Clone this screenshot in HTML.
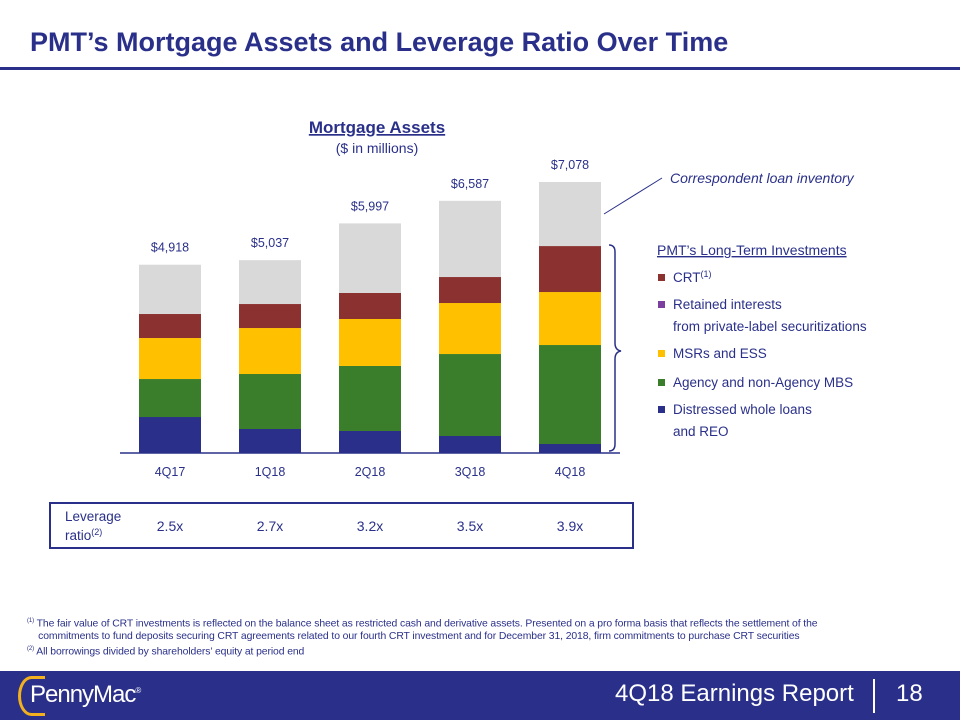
<!DOCTYPE html>
<html><head><meta charset="utf-8"><style>
body{margin:0;width:960px;height:720px;background:#fff;font-family:"Liberation Sans",sans-serif;position:relative;overflow:hidden}
.abs{position:absolute}
</style></head><body>
<div class="abs" style="left:30px;top:27px;font-size:27px;font-weight:bold;color:#2a3089;letter-spacing:0px">PMT’s Mortgage Assets and Leverage Ratio Over Time</div>
<div class="abs" style="left:0;top:67px;width:960px;height:3px;background:#2a3089"></div>
<svg class="abs" style="left:0;top:0" width="960" height="720" id="chart">
<text x="377" y="133" text-anchor="middle" font-size="17" font-weight="bold" fill="#2a3089" text-decoration="underline">Mortgage Assets</text>
<text x="377" y="153" text-anchor="middle" font-size="14" fill="#2a3089">($ in millions)</text>
<g id="bars"></g>
<line x1="120" y1="453" x2="620" y2="453" stroke="#2a3089" stroke-width="1.5"/>
<line x1="604" y1="214" x2="662" y2="178" stroke="#2a3089" stroke-width="1"/>
<text x="670" y="183" font-size="14" font-style="italic" fill="#2a3089">Correspondent loan inventory</text>
<path d="M609,245 Q615,245 615,252 L615,343 Q615,350 621,351 Q615,352 615,359 L615,444 Q615,451 609,451" fill="none" stroke="#2a3089" stroke-width="1.5"/>
<text x="657" y="255" font-size="14" fill="#2a3089" text-decoration="underline">PMT’s Long-Term Investments</text>
<g font-size="13.5" fill="#2a3089">
<rect x="658" y="274" width="7" height="7" fill="#8b3130"/><text x="673" y="282">CRT<tspan font-size="9" dy="-5">(1)</tspan></text>
<rect x="658" y="301" width="7" height="7" fill="#7b3fa0"/><text x="673" y="309">Retained interests</text><text x="673" y="331">from private-label securitizations</text>
<rect x="658" y="350" width="7" height="7" fill="#ffc000"/><text x="673" y="358">MSRs and ESS</text>
<rect x="658" y="379" width="7" height="7" fill="#3a7d2a"/><text x="673" y="387">Agency and non-Agency MBS</text>
<rect x="658" y="406" width="7" height="7" fill="#2a3089"/><text x="673" y="414">Distressed whole loans</text><text x="673" y="436">and REO</text>
</g>
<rect x="50" y="503" width="583" height="45" fill="none" stroke="#2a3089" stroke-width="2"/>
<text x="65" y="521" font-size="13.5" fill="#2a3089">Leverage</text>
<text x="65" y="540" font-size="13.5" fill="#2a3089">ratio<tspan font-size="9" dy="-5">(2)</tspan></text>
<g id="lev"></g>
</svg>
<div class="abs" style="left:27px;top:615px;font-size:10.4px;color:#2a3089;line-height:13px;width:920px;letter-spacing:-0.1px">
<div><sup style="font-size:6px">(1)</sup> The fair value of CRT investments is reflected on the balance sheet as restricted cash and derivative assets. Presented on a pro forma basis that reflects the settlement of the<br>&nbsp;&nbsp;&nbsp;&nbsp;commitments to fund deposits securing CRT agreements related to our fourth CRT investment and for December 31, 2018, firm commitments to purchase CRT securities</div>
<div><sup style="font-size:6px">(2)</sup> All borrowings divided by shareholders’ equity at period end</div>
</div>
<div class="abs" style="left:0;top:671px;width:960px;height:49px;background:#2a3089">
<div class="abs" style="left:18px;top:5px;width:24px;height:34px;border:3px solid #f2b01e;border-right:none;border-radius:50% 0 0 50%"></div>
<div class="abs" style="left:30px;top:10px;color:#fff;font-size:24px;letter-spacing:-1px">PennyMac<sup style="font-size:8px">®</sup></div>
<div class="abs" style="left:615px;top:9px;color:#fff;font-size:24px">4Q18 Earnings Report</div>
<div class="abs" style="left:873px;top:8px;width:2px;height:34px;background:#fff"></div>
<div class="abs" style="left:896px;top:9px;color:#fff;font-size:24px">18</div>
</div>
<script>
const categories=["4Q17","1Q18","2Q18","3Q18","4Q18"];
const loans=[940,627,575,444,235];
const mbs=[992,1436,1698,2141,2585];
const msrs=[1071,1201,1227,1332,1384];
const crt=[627,627,679,679,1201];
const totals=[4918,5037,5997,6587,7078];
const leverage=["2.5x","2.7x","3.2x","3.5x","3.9x"];
const NS="http://www.w3.org/2000/svg";
const base=453,scale=271/7078;
const y=v=>base-v*scale;
const xc=i=>170+i*100;
const g=document.getElementById('bars');
function mk(t,a){const e=document.createElementNS(NS,t);for(const k in a)e.setAttribute(k,a[k]);return e;}
const series=[[loans,"#2a3089","loans"],[mbs,"#3a7d2a","mbs"],[msrs,"#ffc000","msrs"],[crt,"#8b3130","crt"]];
categories.forEach((c,i)=>{
  let cum=0;
  series.forEach(([arr,col,nm])=>{
    const r=mk('rect',{x:xc(i)-31,y:y(cum+arr[i]),width:62,height:arr[i]*scale,fill:col});
    
    
    g.appendChild(r);cum+=arr[i];
  });
  const r=mk('rect',{x:xc(i)-31,y:y(totals[i]),width:62,height:(totals[i]-cum)*scale,fill:"#d9d9d9"});
  
  
  g.appendChild(r);
  const t=mk('text',{x:xc(i),y:y(totals[i])-13,'text-anchor':'middle','font-size':12.5,fill:'#2a3089'});
  t.textContent='$'+totals[i].toLocaleString('en-US');
  
  
  g.appendChild(t);
  const xl=mk('text',{x:xc(i),y:476,'text-anchor':'middle','font-size':12.5,fill:'#2a3089'});
  xl.textContent=c;
  
  
  g.appendChild(xl);
  const lv=mk('text',{x:xc(i),y:531,'text-anchor':'middle','font-size':14,fill:'#2a3089'});
  lv.textContent=leverage[i];
  
  
  document.getElementById('lev').appendChild(lv);
});
</script>
</body></html>
